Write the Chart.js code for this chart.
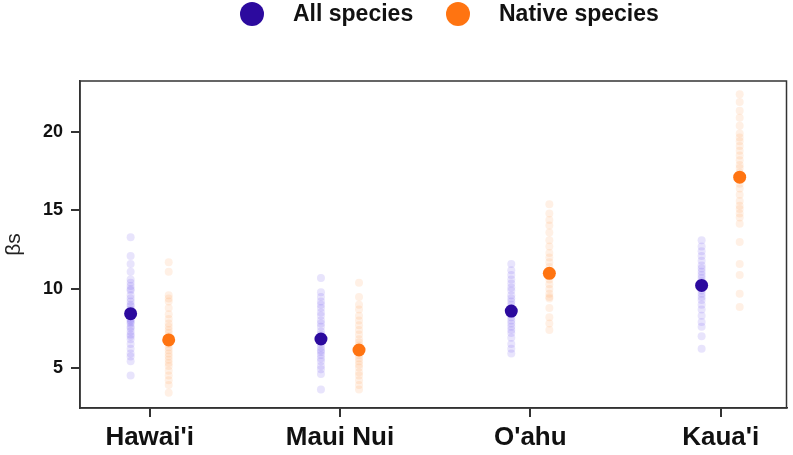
<!DOCTYPE html>
<html>
<head>
<meta charset="utf-8">
<script src="https://cdn.jsdelivr.net/npm/chart.js@4.4.1/dist/chart.umd.min.js"></script>
<style>
  html, body { margin: 0; padding: 0; background: #fff; }
  #wrap { width: 793px; height: 455px; }
</style>
</head>
<body>
<div id="wrap"><canvas id="grafico"></canvas></div>
<script>
// islas y medias
const islands = ["Hawai'i", "Maui Nui", "O'ahu", "Kaua'i"];
const meanAll = [8.43, 6.82, 8.60, 10.23];
const meanNative = [6.76, 6.12, 11.00, 17.12];
const yTicks = [5, 10, 15, 20];

// muestras posteriores, todas las especies
const allHawaii = [13.3, 12.1, 11.6, 11.1, 10.6, 10.4, 10.2, 10.0, 9.9, 9.6, 9.4, 9.2, 9.0, 8.9, 8.7, 8.5, 8.3, 8.1, 8.0, 7.9, 7.8, 7.6, 7.5, 7.3, 7.1, 7.0, 6.8, 6.5, 6.2, 5.9, 5.7, 5.4, 4.5];
const allMaui = [10.7, 9.8, 9.5, 9.2, 9.0, 8.8, 8.5, 8.3, 8.0, 7.8, 7.6, 7.3, 7.1, 6.9, 6.7, 6.5, 6.3, 6.1, 6.0, 5.8, 5.6, 5.4, 5.1, 4.9, 4.6, 3.6];
const allOahu = [11.6, 11.2, 10.9, 10.6, 10.35, 10.1, 9.9, 9.6, 9.4, 9.2, 9.0, 8.8, 8.6, 8.4, 8.2, 8.0, 7.8, 7.6, 7.4, 7.2, 6.9, 6.5, 6.2, 5.9];
const allKauai = [13.1, 12.7, 12.4, 12.1, 11.8, 11.5, 11.3, 11.1, 10.9, 10.7, 10.5, 10.3, 10.1, 9.9, 9.7, 9.5, 9.3, 9.0, 8.7, 8.3, 7.9, 7.6, 7.0, 6.2];

// muestras posteriores, especies nativas
const nativeHawaii = [11.7, 11.1, 9.6, 9.4, 9.2, 8.8, 8.4, 8.1, 7.8, 7.6, 7.4, 7.2, 7.0, 6.9, 6.7, 6.5, 6.3, 6.1, 5.9, 5.7, 5.5, 5.3, 5.1, 4.8, 4.5, 4.2, 3.9, 3.4];
const nativeMaui = [10.4, 9.5, 9.0, 8.7, 8.3, 8.0, 7.7, 7.4, 7.1, 6.8, 6.6, 6.4, 6.2, 6.0, 5.8, 5.6, 5.4, 5.2, 5.0, 4.7, 4.5, 4.2, 3.9, 3.6];
const nativeOahu = [15.4, 14.8, 14.4, 14.05, 13.6, 13.1, 12.7, 12.3, 12.0, 11.7, 11.4, 11.1, 10.9, 10.6, 10.3, 10.0, 9.7, 9.5, 9.4, 8.8, 8.2, 7.8, 7.4];
const nativeKauai = [22.4, 21.9, 21.35, 20.9, 20.4, 19.9, 19.65, 19.4, 19.1, 18.8, 18.5, 18.2, 17.9, 17.7, 17.4, 17.0, 16.7, 16.4, 16.0, 15.6, 15.3, 15.1, 14.8, 14.55, 14.15, 13.0, 11.6, 10.9, 9.7, 8.85];

(function(){
  const colorAll = '#2c0a9e';
  const colorNative = '#ff7411';
  const dodge = 0.1;

  const aPuntos = (grupos, desplazamiento) => {
    const puntos = [];
    grupos.forEach((valores, i) => {
      valores.forEach((v) => puntos.push({ x: i + desplazamiento, y: v }));
    });
    return puntos;
  };
  const medias = (valores, desplazamiento) => valores.map((v, i) => ({ x: i + desplazamiento, y: v }));

  // marco completo + leyenda arriba
  const marcoYLeyenda = {
    id: 'marcoYLeyenda',
    afterDraw(chart) {
      const { ctx, chartArea } = chart;
      ctx.save();
      ctx.strokeStyle = '#333';
      ctx.lineWidth = 1.5;
      ctx.strokeRect(chartArea.left, chartArea.top, chartArea.right - chartArea.left, chartArea.bottom - chartArea.top);

      const items = [
        { text: 'All species', color: colorAll, cx: 252 },
        { text: 'Native species', color: colorNative, cx: 458 }
      ];
      ctx.font = 'bold 23px "Liberation Sans", Arial, sans-serif';
      ctx.textBaseline = 'middle';
      ctx.textAlign = 'left';
      items.forEach((it) => {
        ctx.beginPath();
        ctx.arc(it.cx, 14, 12, 0, Math.PI * 2);
        ctx.fillStyle = it.color;
        ctx.fill();
        ctx.fillStyle = '#111';
        ctx.fillText(it.text, it.cx + 41, 15);
      });
      ctx.restore();
    }
  };

  new Chart(document.getElementById('grafico'), {
    type: 'scatter',
    data: {
      datasets: [
        { label: 'All species', data: medias(meanAll, -dodge), backgroundColor: colorAll, pointRadius: 6.5, borderWidth: 0, pointHoverRadius: 6.5 },
        { label: 'Native species', data: medias(meanNative, dodge), backgroundColor: colorNative, pointRadius: 6.5, borderWidth: 0, pointHoverRadius: 6.5 },
        { label: 'all samples', data: aPuntos([allHawaii, allMaui, allOahu, allKauai], -dodge), backgroundColor: 'rgba(90,65,235,0.14)', pointRadius: 4, borderWidth: 0 },
        { label: 'native samples', data: aPuntos([nativeHawaii, nativeMaui, nativeOahu, nativeKauai], dodge), backgroundColor: 'rgba(255,135,45,0.12)', pointRadius: 4, borderWidth: 0 }
      ]
    },
    options: {
      responsive: true,
      maintainAspectRatio: false,
      animation: false,
      layout: { padding: { top: 81, right: 4, left: 0, bottom: 0 } },
      plugins: {
        legend: { display: false },
        tooltip: { enabled: false }
      },
      scales: {
        x: {
          type: 'linear',
          min: -0.366,
          max: 3.346,
          afterBuildTicks: (scale) => { scale.ticks = islands.map((_, i) => ({ value: i })); },
          afterFit: (scale) => { scale.height = 47; },
          ticks: {
            callback: (value) => islands[value] || '',
            color: '#111',
            font: { family: '"Liberation Sans", Arial, sans-serif', size: 26, weight: 'bold' },
            padding: 5,
            maxRotation: 0
          },
          grid: { drawOnChartArea: false, drawTicks: true, tickLength: 9, color: '#333', lineWidth: 2 },
          border: { display: true, color: '#333', width: 1.5 }
        },
        y: {
          min: 2.43,
          max: 23.24,
          afterBuildTicks: (scale) => { scale.ticks = yTicks.map((v) => ({ value: v })); },
          afterFit: (scale) => { scale.width = 80; },
          ticks: {
            color: '#111',
            font: { family: '"Liberation Sans", Arial, sans-serif', size: 18, weight: 'bold' },
            padding: 8
          },
          title: {
            display: true,
            text: 'βs',
            color: '#222',
            font: { family: '"Liberation Sans", Arial, sans-serif', size: 21 },
            padding: 2
          },
          grid: { drawOnChartArea: false, drawTicks: true, tickLength: 9, color: '#333', lineWidth: 2 },
          border: { display: true, color: '#333', width: 1.5 }
        }
      }
    },
    plugins: [marcoYLeyenda]
  });
})();
</script>
</body>
</html>
